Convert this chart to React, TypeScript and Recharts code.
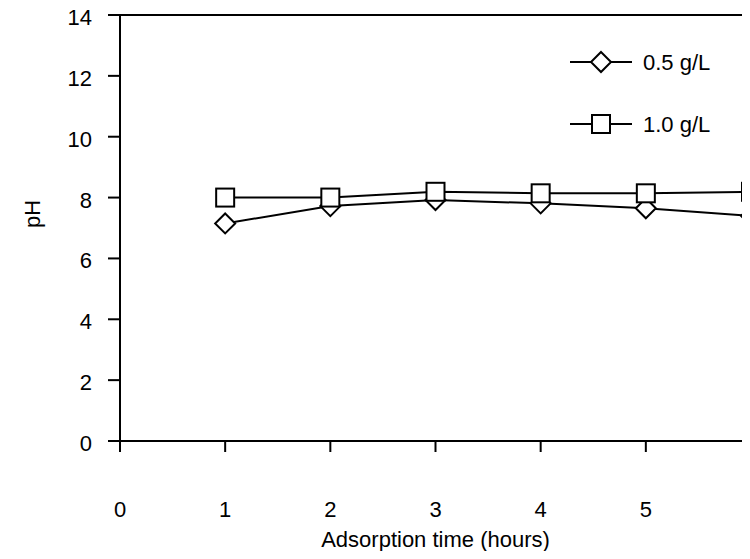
import React from 'react'
import { LineChart, Line, XAxis, YAxis, ReferenceLine } from 'recharts'

const hours = [1, 2, 3, 4, 5, 6]
const ph05 = [7.15, 7.72, 7.92, 7.81, 7.65, 7.4]
const ph10 = [8.0, 8.0, 8.19, 8.14, 8.14, 8.19]
const xTicks = [0, 1, 2, 3, 4, 5, 6]
const yTicks = [0, 2, 4, 6, 8, 10, 12, 14]
const seriesNames = ['0.5 g/L', '1.0 g/L']

const data = hours.map((h, i) => ({ h, a: ph05[i], b: ph10[i] }))
const FONT = '"Liberation Sans", Arial, sans-serif'
const FS = 22

const Diamond = (p: any) => {
  const { cx, cy } = p
  if (cx == null || cy == null) return <g key={p.key} />
  const r = 10
  return <path key={p.key} d={`M${cx},${cy - r}L${cx + r},${cy}L${cx},${cy + r}L${cx - r},${cy}Z`} fill="#fff" stroke="#000" strokeWidth={2} />
}
const Square = (p: any) => {
  const { cx, cy } = p
  if (cx == null || cy == null) return <g key={p.key} />
  const s = 18
  return <rect key={p.key} x={cx - s / 2} y={cy - s / 2} width={s} height={s} fill="#fff" stroke="#000" strokeWidth={2} />
}

const XTick = (p: any) => (
  <text x={p.x} y={p.y} dy={65} textAnchor="middle" fontSize={FS} fontFamily={FONT} fill="#000">{p.payload.value}</text>
)
const YTick = (p: any) => (
  <text x={p.x} y={p.y} dy={10} textAnchor="end" fontSize={FS} fontFamily={FONT} fill="#000">{p.payload.value}</text>
)

// legend drawn as an overlay so it does not shrink the plot area
const LegendBox = () => (
  <svg width={170} height={110} style={{ position: 'absolute', left: 562, top: 32 }}>
    <line x1={0} y1={22} x2={62} y2={22} stroke="#000" strokeWidth={2} />
    <Diamond cx={31} cy={22} />
    <text x={73} y={30} fontSize={FS} fontFamily={FONT} fill="#000">{seriesNames[0]}</text>
    <line x1={0} y1={84} x2={62} y2={84} stroke="#000" strokeWidth={2} />
    <Square cx={31} cy={84} />
    <text x={73} y={92} fontSize={FS} fontFamily={FONT} fill="#000">{seriesNames[1]}</text>
  </svg>
)

export default function App() {
  return (
    <div style={{ position: 'relative', width: 742, height: 543, overflow: 'hidden', background: '#fff' }}>
      <LineChart width={780} height={543} data={data} margin={{ top: 7, right: 37, left: 0, bottom: 0 }}>
        <XAxis dataKey="h" type="number" domain={[0, 6]} ticks={xTicks} interval={0}
          axisLine={{ stroke: '#000', strokeWidth: 2 }} tickLine={{ stroke: '#000', strokeWidth: 2 }}
          tickSize={11} tickMargin={0} height={110} tick={<XTick />}
          label={{ value: 'Adsorption time (hours)', position: 'insideBottom', offset: 4, fontSize: FS, fontFamily: FONT, fill: '#000' }} />
        <YAxis type="number" domain={[0, 14]} ticks={yTicks} interval={0} width={112}
          axisLine={{ stroke: '#000', strokeWidth: 2 }} tickLine={{ stroke: '#000', strokeWidth: 2 }}
          tickSize={12} tickMargin={16} tick={<YTick />}
          label={{ value: 'pH', angle: -90, position: 'insideLeft', offset: 24, fontSize: FS, fontFamily: FONT, fill: '#000' }} />
        <ReferenceLine y={14} stroke="#000" strokeWidth={2} />
        <Line dataKey="a" stroke="#000" strokeWidth={2} dot={Diamond} isAnimationActive={false} />
        <Line dataKey="b" stroke="#000" strokeWidth={2} dot={Square} isAnimationActive={false} />
      </LineChart>
      <LegendBox />
    </div>
  )
}
